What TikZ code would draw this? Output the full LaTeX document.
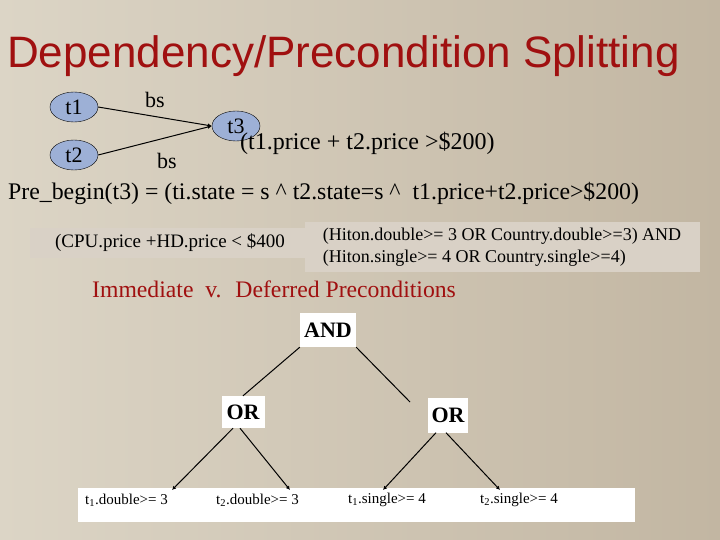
\documentclass[tikz,border=0pt]{standalone}
\usepackage{fontspec}
\setmainfont{Liberation Serif}
\newfontfamily\titlefont{Liberation Sans}
\usetikzlibrary{shapes.geometric,arrows.meta}
\definecolor{bgL}{HTML}{DCD5C6}
\definecolor{bgR}{HTML}{C2B6A2}
\definecolor{ttl}{HTML}{A01010}
\definecolor{ell}{HTML}{9DB0D6}
\definecolor{gbox}{HTML}{D9D1C6}
\begin{document}
\begin{tikzpicture}[x=1pt,y=-1pt,
  tnode/.style={ellipse,draw=black,fill=ell,minimum width=48pt,minimum height=30pt,inner sep=0pt,font=\fontsize{22}{24}\selectfont},
  wbox/.style={fill=white,inner sep=0pt,font=\fontsize{22}{24}\selectfont\bfseries},
  leaf/.style={font=\fontsize{15}{17}\selectfont,anchor=west,inner sep=0pt},
  edge/.style={draw=black,line width=1pt},
  tip/.style={edge,-{Latex[length=4pt,width=4pt]}}]
\shade[left color=bgL,right color=bgR] (0,0) rectangle (720,540);
\useasboundingbox (0,0) rectangle (720,540);
\node[anchor=base west,inner sep=0pt,text=ttl,font=\titlefont\fontsize{44}{46}\selectfont] (title) at (7,68) {Dependency/Precondition Splitting};
\node[tnode] (t1) at (74,107) {t1};
\node[tnode] (t2) at (74,155) {t2};
\node[tnode] (t3) at (236,126) {t3};
\draw[tip] (t1.east) -- (t3.west);
\draw[tip] (t2.east) -- (t3.west);
\node[font=\fontsize{22}{24}\selectfont,inner sep=0pt] (bs1) at (155,100) {bs};
\node[font=\fontsize{22}{24}\selectfont,inner sep=0pt] (bs2) at (167,161) {bs};
\node[anchor=base west,inner sep=0pt,font=\fontsize{24}{26}\selectfont] (cond) at (240,150) {(t1.price + t2.price >\$200)};
\node[anchor=base west,inner sep=0pt,font=\fontsize{23.8}{26}\selectfont] (pre) at (8,200) {Pre\_begin(t3) = (ti.state = s \^{} t2.state=s \^{}~ t1.price+t2.price>\$200)};
\node[fill=gbox,minimum width=280pt,minimum height=30pt,inner sep=0pt,font=\fontsize{19}{21}\selectfont] (cpu) at (170,243) {(CPU.price +HD.price < \$400};
\node[fill=gbox,minimum width=395pt,minimum height=50pt,inner sep=0pt,align=left,font=\fontsize{18}{22}\selectfont] (hiton) at (502,247) {(Hiton.double>= 3 OR Country.double>=3) AND\\(Hiton.single>= 4 OR Country.single>=4)};
\node[anchor=base west,inner sep=0pt,text=ttl,font=\fontsize{23.7}{26}\selectfont] (imm) at (92,297) {Immediate~ v.~ Deferred Preconditions};
\node[wbox,minimum width=56pt,minimum height=34pt] (and) at (328,330) {AND};
\node[wbox,minimum width=43pt,minimum height=32pt] (or1) at (243,412) {OR};
\node[wbox,minimum width=40pt,minimum height=35pt] (or2) at (448,415) {OR};
\node[fill=white,minimum width=557pt,minimum height=34pt,inner sep=0pt] (leafbox) at (356.5,505) {};
\node[leaf] (l1) at (85,500) {t\textsubscript{1}.double>= 3};
\node[leaf] (l2) at (216,500) {t\textsubscript{2}.double>= 3};
\node[leaf] (l3) at (348,500) {t\textsubscript{1}.single>= 4};
\node[leaf] (l4) at (480,500) {t\textsubscript{2}.single>= 4};
\coordinate (c1) at (172,490);
\coordinate (c2) at (290,490);
\coordinate (c3) at (383,490);
\coordinate (c4) at (500,490);
\coordinate (aR) at (410,402);
\draw[edge] (and.south west) -- (or1.north);
\draw[edge] (and.south east) -- (aR);
\draw[tip] ([xshift=-10pt]or1.south) -- (c1);
\draw[tip] ([xshift=-3pt]or1.south) -- (c2);
\draw[tip] ([xshift=-12pt]or2.south) -- (c3);
\draw[tip] ([xshift=-2pt]or2.south) -- (c4);
\end{tikzpicture}
\end{document}
